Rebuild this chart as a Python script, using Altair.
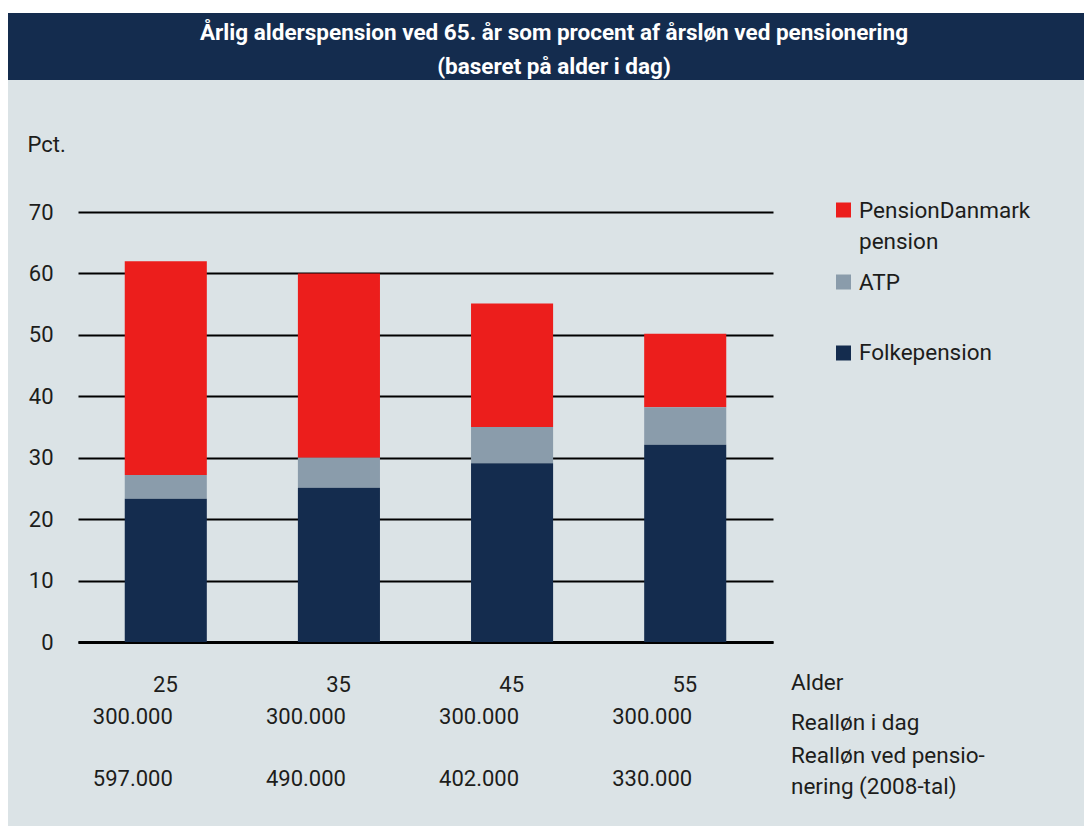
import altair as alt
import pandas as pd

# ---------------- data ----------------
ages = ["25", "35", "45", "55"]
series = ["PensionDanmark pension", "ATP", "Folkepension"]
pensiondanmark = [34.8, 30.0, 20.1, 12.0]
atp = [3.9, 4.9, 5.9, 6.1]
folkepension = [23.3, 25.1, 29.1, 32.1]
realloen_i_dag = ["300.000", "300.000", "300.000", "300.000"]
realloen_pension = ["597.000", "490.000", "402.000", "330.000"]
y_ticks = [0, 10, 20, 30, 40, 50, 60, 70]
title_lines = ["Årlig alderspension ved 65. år som procent af årsløn ved pensionering",
               "(baseret på alder i dag)"]
legend_labels = ["PensionDanmark\npension", "ATP", "Folkepension"]
row_labels = ["Alder", "Realløn i dag", "Realløn ved pensio-\nnering (2008-tal)"]
y_title = "Pct."

# ---------------- style ----------------
NAVY = "#142c4e"
GRAY = "#8a9cab"
RED = "#ec1e1c"
BG = "#dbe3e6"
TXT = "#1d1d1b"
FONT = "Roboto"
colors = [RED, GRAY, NAVY]

values_by_series = {series[0]: pensiondanmark, series[1]: atp, series[2]: folkepension}
stack_order = {series[2]: 0, series[1]: 1, series[0]: 2}
rows = []
for s in series:
    for a, v in zip(ages, values_by_series[s]):
        rows.append({"age": a, "series": s, "value": v, "order": stack_order[s]})
df = pd.DataFrame(rows)

df_rows = pd.DataFrame({"age": ages, "today": realloen_i_dag, "pension": realloen_pension})
one = pd.DataFrame({"k": [0]})

color_scale = alt.Scale(domain=series, range=colors)
x_scale = alt.Scale(paddingInner=0.526, paddingOuter=0.27)

bars = alt.Chart(df).mark_bar().encode(
    x=alt.X("age:N", sort=ages, scale=x_scale,
            axis=alt.Axis(title=None, labelAngle=0, labelAlign="right", labelOffset=12,
                          labelPadding=42, labelBaseline="middle", ticks=False, tickSize=0,
                          domain=True, domainColor="black", domainWidth=3, grid=False,
                          labelFontSize=22, labelFont=FONT, labelColor=TXT)),
    y=alt.Y("value:Q", stack="zero",
            scale=alt.Scale(domain=[0, 70], nice=False),
            axis=alt.Axis(values=y_ticks, grid=True, gridColor="black", gridWidth=2,
                          gridOpacity=1, domain=False, ticks=False, tickSize=0,
                          labelPadding=25, labelFontSize=22, labelFont=FONT, labelColor=TXT,
                          title=y_title, titleAngle=0, titleAlign="left",
                          titleBaseline="middle", titleX=-51, titleY=-68,
                          titleFontSize=22, titleFontWeight="normal", titleFont=FONT,
                          titleColor=TXT)),
    color=alt.Color("series:N", scale=color_scale, legend=None),
    order=alt.Order("order:Q", sort="ascending"),
)

row2 = alt.Chart(df_rows).mark_text(
    align="right", baseline="alphabetic", dx=7, fontSize=22, font=FONT, color=TXT
).encode(x=alt.X("age:N", sort=ages), y=alt.value(512), text="today:N")

row3 = alt.Chart(df_rows).mark_text(
    align="right", baseline="alphabetic", dx=7, fontSize=22, font=FONT, color=TXT
).encode(x=alt.X("age:N", sort=ages), y=alt.value(574), text="pension:N")

# header band
white_strip = alt.Chart(one).mark_rect(color="white").encode(
    x=alt.value(-70), x2=alt.value(1006), y=alt.value(-204), y2=alt.value(-199))
band = alt.Chart(one).mark_rect(color=NAVY).encode(
    x=alt.value(-70), x2=alt.value(1006), y=alt.value(-199), y2=alt.value(-132))
title = alt.Chart(one).mark_text(
    text=title_lines, align="center", baseline="top", lineHeight=34,
    fontSize=22.5, fontWeight="bold", font=FONT, color="white"
).encode(x=alt.value(476), y=alt.value(-190))

# manual legend
legend_y_sq = [-2, 70, 141]
legend_y_tx = [-12, 71, 141]
legend_layers = []
for i, s in enumerate(series):
    sq = alt.Chart(pd.DataFrame({"series": [s]})).mark_square(size=225, opacity=1).encode(
        x=alt.value(765.5), y=alt.value(legend_y_sq[i]),
        color=alt.Color("series:N", scale=color_scale, legend=None))
    tx = alt.Chart(one).mark_text(
        text=legend_labels[i].split("\n"), align="left",
        baseline="top" if i == 0 else "middle", lineHeight=30.5,
        fontSize=22.5, font=FONT, color=TXT
    ).encode(x=alt.value(781), y=alt.value(legend_y_tx[i]))
    legend_layers += [sq, tx]

# right-hand row labels
row_y = [478, 518, 533]
row_base = ["alphabetic", "alphabetic", "top"]
row_layers = []
for i, t in enumerate(row_labels):
    row_layers.append(alt.Chart(one).mark_text(
        text=t.split("\n"), align="left", baseline=row_base[i], lineHeight=30.5,
        fontSize=22.5, font=FONT, color=TXT
    ).encode(x=alt.value(713), y=alt.value(row_y[i])))

chart = alt.layer(
    white_strip, band, title, bars, row2, row3, *legend_layers, *row_layers
).properties(
    width=695, height=430,
    autosize=alt.AutoSizeParams(type="none"),
    padding={"left": 70, "top": 204, "right": 311, "bottom": 184},
).configure(background=BG).configure_view(stroke=None)

chart.save("out.html", embed_options={"renderer": "svg", "actions": False})
